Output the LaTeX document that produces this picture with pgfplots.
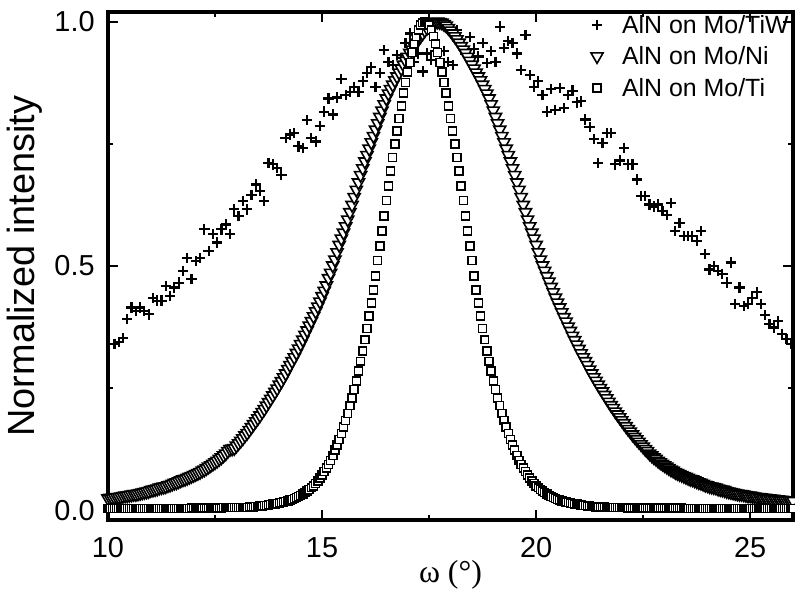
\documentclass[border=0pt]{standalone}
\usepackage{fontspec}
\setmainfont{Liberation Sans}
\newfontfamily\seriffont{Liberation Serif}
\usepackage{pgfplots}
\pgfplotsset{compat=1.18}
\usetikzlibrary{calc}
\begin{document}
\begin{tikzpicture}
\begin{axis}[
  scale only axis, width=342.5bp, height=254bp,
  xmin=10, xmax=26, ymin=-0.02, ymax=1.02,
  xtick={10,15,20,25}, xticklabels={10,15,20,25},
  minor xtick={12.5,17.5,22.5},
  ytick={0,0.5,1}, yticklabels={0.0,0.5,1.0},
  minor ytick={0.25,0.75},
  tick align=inside,
  major tick length=5bp, minor tick length=2.5bp,
  every tick/.style={black, line width=1bp},
  axis line style={line width=1.6bp},
  /pgf/number format/assume math mode=true,
  tick label style={font=\fontsize{14.5}{17}\selectfont},
  xticklabel style={inner sep=0pt, anchor=north, yshift=-8.5bp},
  yticklabel style={inner sep=0pt, anchor=east, xshift=-6.5bp},
  ylabel={Normalized intensity},
  ylabel style={font=\fontsize{19}{22}\selectfont, at={(axis description cs:-0.1212,0.5)}, anchor=center},
  xlabel={ω (°)},
  xlabel style={font=\seriffont\fontsize{16}{19}\selectfont, at={(axis description cs:0.5,-0.1083)}, anchor=center},
  legend style={at={(rel axis cs:1,1)}, anchor=north east, draw=none, fill=none,
    inner sep=0pt, xshift=-2bp, yshift=-1.5bp,
    font=\fontsize{12.5}{15}\selectfont, row sep=4.25bp,
    nodes={inner sep=0pt, text height=9bp, text depth=2.5bp},
    /tikz/every odd column/.append style={column sep=9.5bp}},
  legend image code/.code={\draw[mark repeat=2, mark phase=2, #1] plot coordinates {(0bp,1bp)(8bp,1bp)(16bp,1bp)};},
  legend cell align=left,
]
\coordinate (bl) at (rel axis cs:0,0);
\coordinate (tr) at (rel axis cs:1,1);

% AlN on Mo/TiW
\addplot[only marks, mark=+, mark size=2.6pt, mark options={line width=1.1bp, black}] coordinates {
(10.15,0.340)(10.25,0.345)(10.35,0.352)(10.45,0.391)(10.55,0.415)(10.65,0.408)(10.75,0.415)(10.85,0.408)
(10.95,0.401)(11.05,0.435)(11.15,0.429)(11.25,0.429)(11.35,0.459)(11.45,0.439)(11.55,0.456)(11.65,0.466)
(11.75,0.490)(11.85,0.517)(11.95,0.473)(12.05,0.510)(12.15,0.517)(12.25,0.575)(12.35,0.531)(12.45,0.565)
(12.55,0.548)(12.65,0.575)(12.75,0.585)(12.85,0.565)(12.95,0.616)(13.05,0.602)(13.15,0.633)(13.25,0.616)
(13.35,0.645)(13.45,0.667)(13.55,0.653)(13.65,0.633)(13.75,0.711)(13.85,0.708)(13.95,0.700)(14.05,0.687)
(14.15,0.762)(14.25,0.769)(14.35,0.772)(14.45,0.745)(14.55,0.741)(14.65,0.799)(14.75,0.762)(14.85,0.755)
(14.95,0.786)(15.05,0.816)(15.15,0.843)(15.25,0.810)(15.35,0.845)(15.45,0.883)(15.55,0.850)(15.65,0.857)
(15.75,0.867)(15.85,0.857)(15.95,0.878)(16.05,0.895)(16.15,0.908)(16.25,0.867)(16.35,0.895)(16.45,0.942)
(16.55,0.918)(16.65,0.911)(16.75,0.932)(16.85,0.925)(16.95,0.956)(17.05,0.976)(17.15,0.918)(17.25,0.935)
(17.35,0.898)(17.45,0.935)(17.55,0.922)(17.65,0.940)(17.75,0.918)(17.85,0.940)(17.95,0.918)(18.05,0.911)
(18.15,0.983)(18.25,0.950)(18.35,0.935)(18.45,0.969)(18.55,0.945)(18.65,0.929)(18.75,0.956)(18.85,0.915)
(18.95,0.940)(19.05,0.918)(19.15,0.990)(19.25,0.946)(19.35,0.960)(19.45,0.956)(19.55,0.935)(19.65,0.901)
(19.75,0.973)(19.85,0.891)(19.95,0.867)(20.05,0.878)(20.15,0.850)(20.25,0.816)(20.35,0.862)(20.45,0.820)
(20.55,0.865)(20.65,0.823)(20.75,0.850)(20.85,0.859)(20.95,0.835)(21.05,0.837)(21.15,0.800)(21.25,0.785)
(21.35,0.760)(21.45,0.711)(21.55,0.752)(21.65,0.772)(21.75,0.772)(21.85,0.708)(21.95,0.716)(22.05,0.742)
(22.15,0.708)(22.25,0.708)(22.35,0.677)(22.45,0.643)(22.55,0.643)(22.65,0.626)(22.75,0.622)(22.85,0.626)
(22.95,0.613)(23.05,0.605)(23.15,0.629)(23.25,0.571)(23.35,0.588)(23.45,0.561)(23.55,0.561)(23.65,0.561)
(23.75,0.551)(23.85,0.571)(23.95,0.524)(24.05,0.493)(24.15,0.500)(24.25,0.490)(24.35,0.483)(24.45,0.466)
(24.55,0.507)(24.65,0.422)(24.75,0.456)(24.85,0.418)(24.95,0.422)(25.05,0.435)(25.15,0.446)(25.25,0.422)
(25.35,0.400)(25.45,0.381)(25.55,0.374)(25.65,0.388)(25.75,0.361)(25.85,0.350)(25.95,0.341)
};
\addlegendentry{AlN on Mo/TiW}

% AlN on Mo/Ni
\addplot[only marks, mark=triangle*, mark size=3.5pt, mark options={fill=white, draw=black, line width=0.8bp, rotate=180}] coordinates {
(10.00,0.024)(10.05,0.025)(10.10,0.025)(10.15,0.026)(10.20,0.027)(10.25,0.027)(10.30,0.028)(10.35,0.029)
(10.40,0.030)(10.45,0.030)(10.50,0.031)(10.55,0.032)(10.60,0.033)(10.65,0.033)(10.70,0.034)(10.75,0.035)
(10.80,0.036)(10.85,0.037)(10.90,0.038)(10.95,0.039)(11.00,0.041)(11.05,0.042)(11.10,0.043)(11.15,0.044)
(11.20,0.046)(11.25,0.047)(11.30,0.048)(11.35,0.049)(11.40,0.051)(11.45,0.052)(11.50,0.054)(11.55,0.056)
(11.60,0.057)(11.65,0.059)(11.70,0.061)(11.75,0.063)(11.80,0.064)(11.85,0.066)(11.90,0.068)(11.95,0.070)
(12.00,0.072)(12.05,0.074)(12.10,0.076)(12.15,0.078)(12.20,0.081)(12.25,0.083)(12.30,0.086)(12.35,0.089)
(12.40,0.092)(12.45,0.095)(12.50,0.098)(12.55,0.101)(12.60,0.105)(12.65,0.108)(12.70,0.112)(12.75,0.116)
(12.80,0.121)(12.85,0.125)(12.90,0.126)(12.95,0.127)(13.00,0.132)(13.05,0.137)(13.10,0.142)(13.15,0.147)
(13.20,0.153)(13.25,0.158)(13.30,0.164)(13.35,0.170)(13.40,0.176)(13.45,0.182)(13.50,0.188)(13.55,0.194)
(13.60,0.201)(13.65,0.207)(13.70,0.214)(13.75,0.221)(13.80,0.228)(13.85,0.235)(13.90,0.242)(13.95,0.249)
(14.00,0.257)(14.05,0.264)(14.10,0.272)(14.15,0.280)(14.20,0.289)(14.25,0.297)(14.30,0.305)(14.35,0.313)
(14.40,0.322)(14.45,0.331)(14.50,0.340)(14.55,0.349)(14.60,0.359)(14.65,0.368)(14.70,0.378)(14.75,0.387)
(14.80,0.397)(14.85,0.407)(14.90,0.417)(14.95,0.427)(15.00,0.438)(15.05,0.449)(15.10,0.460)(15.15,0.475)
(15.20,0.486)(15.25,0.501)(15.30,0.513)(15.35,0.528)(15.40,0.543)(15.45,0.556)(15.50,0.568)(15.55,0.581)
(15.60,0.595)(15.65,0.610)(15.70,0.625)(15.75,0.641)(15.80,0.656)(15.85,0.671)(15.90,0.686)(15.95,0.700)
(16.00,0.714)(16.05,0.727)(16.10,0.740)(16.15,0.753)(16.20,0.766)(16.25,0.779)(16.30,0.792)(16.35,0.805)
(16.40,0.818)(16.45,0.831)(16.50,0.843)(16.55,0.853)(16.60,0.862)(16.65,0.871)(16.70,0.880)(16.75,0.888)
(16.80,0.896)(16.85,0.904)(16.90,0.912)(16.95,0.920)(17.00,0.928)(17.05,0.936)(17.10,0.943)(17.15,0.950)
(17.20,0.957)(17.25,0.964)(17.30,0.970)(17.35,0.976)(17.40,0.982)(17.45,0.987)(17.50,0.992)(17.55,0.995)
(17.60,0.998)(17.65,0.999)(17.70,1.000)(17.75,0.999)(17.80,0.998)(17.85,0.995)(17.90,0.992)(17.95,0.987)
(18.00,0.982)(18.05,0.976)(18.10,0.970)(18.15,0.964)(18.20,0.957)(18.25,0.950)(18.30,0.943)(18.35,0.936)
(18.40,0.928)(18.45,0.920)(18.50,0.912)(18.55,0.904)(18.60,0.896)(18.65,0.888)(18.70,0.880)(18.75,0.871)
(18.80,0.862)(18.85,0.853)(18.90,0.843)(18.95,0.831)(19.00,0.818)(19.05,0.805)(19.10,0.792)(19.15,0.779)
(19.20,0.766)(19.25,0.753)(19.30,0.740)(19.35,0.727)(19.40,0.714)(19.45,0.700)(19.50,0.686)(19.55,0.671)
(19.60,0.656)(19.65,0.641)(19.70,0.625)(19.75,0.610)(19.80,0.595)(19.85,0.581)(19.90,0.568)(19.95,0.556)
(20.00,0.543)(20.05,0.528)(20.10,0.513)(20.15,0.501)(20.20,0.490)(20.25,0.479)(20.30,0.468)(20.35,0.457)
(20.40,0.446)(20.45,0.435)(20.50,0.425)(20.55,0.415)(20.60,0.405)(20.65,0.395)(20.70,0.386)(20.75,0.376)
(20.80,0.367)(20.85,0.357)(20.90,0.348)(20.95,0.339)(21.00,0.330)(21.05,0.321)(21.10,0.313)(21.15,0.305)
(21.20,0.297)(21.25,0.288)(21.30,0.280)(21.35,0.272)(21.40,0.265)(21.45,0.257)(21.50,0.250)(21.55,0.243)
(21.60,0.236)(21.65,0.229)(21.70,0.222)(21.75,0.215)(21.80,0.209)(21.85,0.202)(21.90,0.196)(21.95,0.190)
(22.00,0.184)(22.05,0.178)(22.10,0.172)(22.15,0.166)(22.20,0.161)(22.25,0.155)(22.30,0.150)(22.35,0.145)
(22.40,0.140)(22.45,0.135)(22.50,0.130)(22.55,0.125)(22.60,0.121)(22.65,0.116)(22.70,0.112)(22.75,0.108)
(22.80,0.105)(22.85,0.101)(22.90,0.098)(22.95,0.095)(23.00,0.092)(23.05,0.089)(23.10,0.086)(23.15,0.083)
(23.20,0.081)(23.25,0.078)(23.30,0.076)(23.35,0.074)(23.40,0.072)(23.45,0.070)(23.50,0.068)(23.55,0.066)
(23.60,0.064)(23.65,0.063)(23.70,0.061)(23.75,0.059)(23.80,0.057)(23.85,0.056)(23.90,0.054)(23.95,0.052)
(24.00,0.051)(24.05,0.049)(24.10,0.048)(24.15,0.047)(24.20,0.046)(24.25,0.044)(24.30,0.043)(24.35,0.042)
(24.40,0.041)(24.45,0.039)(24.50,0.038)(24.55,0.037)(24.60,0.036)(24.65,0.035)(24.70,0.034)(24.75,0.033)
(24.80,0.033)(24.85,0.032)(24.90,0.031)(24.95,0.030)(25.00,0.030)(25.05,0.029)(25.10,0.028)(25.15,0.027)
(25.20,0.027)(25.25,0.026)(25.30,0.025)(25.35,0.025)(25.40,0.024)(25.45,0.024)(25.50,0.023)(25.55,0.023)
(25.60,0.022)(25.65,0.022)(25.70,0.021)(25.75,0.021)(25.80,0.020)(25.85,0.020)(25.90,0.020)(25.95,0.019)
(26.00,0.019)
};
\addlegendentry{AlN on Mo/Ni}

% AlN on Mo/Ti
\addplot[only marks, mark=square*, mark size=2pt, mark options={fill=white, draw=black, line width=0.75bp}] coordinates {
(10.00,0.004)(10.05,0.004)(10.10,0.004)(10.15,0.004)(10.20,0.004)(10.25,0.004)(10.30,0.004)(10.35,0.004)
(10.40,0.004)(10.45,0.004)(10.50,0.004)(10.55,0.004)(10.60,0.004)(10.65,0.004)(10.70,0.004)(10.75,0.004)
(10.80,0.004)(10.85,0.004)(10.90,0.004)(10.95,0.004)(11.00,0.004)(11.05,0.004)(11.10,0.004)(11.15,0.004)
(11.20,0.004)(11.25,0.004)(11.30,0.004)(11.35,0.004)(11.40,0.004)(11.45,0.004)(11.50,0.004)(11.55,0.004)
(11.60,0.004)(11.65,0.004)(11.70,0.004)(11.75,0.004)(11.80,0.004)(11.85,0.004)(11.90,0.004)(11.95,0.005)
(12.00,0.005)(12.05,0.005)(12.10,0.005)(12.15,0.005)(12.20,0.005)(12.25,0.005)(12.30,0.005)(12.35,0.005)
(12.40,0.005)(12.45,0.005)(12.50,0.005)(12.55,0.005)(12.60,0.005)(12.65,0.005)(12.70,0.006)(12.75,0.006)
(12.80,0.006)(12.85,0.006)(12.90,0.006)(12.95,0.006)(13.00,0.006)(13.05,0.006)(13.10,0.006)(13.15,0.006)
(13.20,0.006)(13.25,0.006)(13.30,0.007)(13.35,0.007)(13.40,0.007)(13.45,0.008)(13.50,0.008)(13.55,0.009)
(13.60,0.009)(13.65,0.010)(13.70,0.010)(13.75,0.011)(13.80,0.012)(13.85,0.013)(13.90,0.013)(13.95,0.014)
(14.00,0.015)(14.05,0.016)(14.10,0.017)(14.15,0.018)(14.20,0.019)(14.25,0.021)(14.30,0.022)(14.35,0.024)
(14.40,0.026)(14.45,0.028)(14.50,0.030)(14.55,0.033)(14.60,0.036)(14.65,0.039)(14.70,0.042)(14.75,0.046)
(14.80,0.050)(14.85,0.055)(14.90,0.060)(14.95,0.066)(15.00,0.072)(15.05,0.079)(15.10,0.086)(15.15,0.094)
(15.20,0.102)(15.25,0.112)(15.30,0.123)(15.35,0.134)(15.40,0.145)(15.45,0.157)(15.50,0.170)(15.55,0.184)
(15.60,0.198)(15.65,0.214)(15.70,0.230)(15.75,0.247)(15.80,0.265)(15.85,0.285)(15.90,0.305)(15.95,0.326)
(16.00,0.349)(16.05,0.372)(16.10,0.398)(16.15,0.424)(16.20,0.451)(16.25,0.480)(16.30,0.511)(16.35,0.541)
(16.40,0.572)(16.45,0.602)(16.50,0.634)(16.55,0.664)(16.60,0.694)(16.65,0.722)(16.70,0.750)(16.75,0.776)
(16.80,0.802)(16.85,0.828)(16.90,0.854)(16.95,0.876)(17.00,0.897)(17.05,0.917)(17.10,0.937)(17.15,0.955)
(17.20,0.970)(17.25,0.983)(17.30,0.993)(17.35,0.998)(17.40,1.000)(17.45,0.998)(17.50,0.993)(17.55,0.983)
(17.60,0.970)(17.65,0.955)(17.70,0.937)(17.75,0.917)(17.80,0.897)(17.85,0.876)(17.90,0.854)(17.95,0.828)
(18.00,0.802)(18.05,0.776)(18.10,0.750)(18.15,0.722)(18.20,0.694)(18.25,0.664)(18.30,0.634)(18.35,0.602)
(18.40,0.572)(18.45,0.541)(18.50,0.511)(18.55,0.480)(18.60,0.451)(18.65,0.424)(18.70,0.398)(18.75,0.372)
(18.80,0.349)(18.85,0.326)(18.90,0.305)(18.95,0.285)(19.00,0.265)(19.05,0.247)(19.10,0.230)(19.15,0.214)
(19.20,0.198)(19.25,0.184)(19.30,0.170)(19.35,0.157)(19.40,0.145)(19.45,0.134)(19.50,0.123)(19.55,0.112)
(19.60,0.102)(19.65,0.094)(19.70,0.086)(19.75,0.079)(19.80,0.072)(19.85,0.066)(19.90,0.060)(19.95,0.055)
(20.00,0.050)(20.05,0.046)(20.10,0.042)(20.15,0.039)(20.20,0.036)(20.25,0.033)(20.30,0.030)(20.35,0.028)
(20.40,0.026)(20.45,0.024)(20.50,0.022)(20.55,0.021)(20.60,0.019)(20.65,0.018)(20.70,0.017)(20.75,0.016)
(20.80,0.015)(20.85,0.014)(20.90,0.013)(20.95,0.013)(21.00,0.012)(21.05,0.011)(21.10,0.010)(21.15,0.010)
(21.20,0.009)(21.25,0.009)(21.30,0.008)(21.35,0.008)(21.40,0.007)(21.45,0.007)(21.50,0.007)(21.55,0.007)
(21.60,0.007)(21.65,0.006)(21.70,0.006)(21.75,0.006)(21.80,0.006)(21.85,0.006)(21.90,0.006)(21.95,0.006)
(22.00,0.006)(22.05,0.006)(22.10,0.006)(22.15,0.005)(22.20,0.005)(22.25,0.005)(22.30,0.005)(22.35,0.005)
(22.40,0.005)(22.45,0.005)(22.50,0.005)(22.55,0.005)(22.60,0.005)(22.65,0.005)(22.70,0.005)(22.75,0.005)
(22.80,0.005)(22.85,0.005)(22.90,0.005)(22.95,0.005)(23.00,0.005)(23.05,0.005)(23.10,0.005)(23.15,0.005)
(23.20,0.005)(23.25,0.005)(23.30,0.005)(23.35,0.005)(23.40,0.005)(23.45,0.004)(23.50,0.004)(23.55,0.004)
(23.60,0.004)(23.65,0.004)(23.70,0.004)(23.75,0.004)(23.80,0.004)(23.85,0.004)(23.90,0.004)(23.95,0.004)
(24.00,0.004)(24.05,0.004)(24.10,0.004)(24.15,0.004)(24.20,0.004)(24.25,0.004)(24.30,0.004)(24.35,0.004)
(24.40,0.004)(24.45,0.004)(24.50,0.004)(24.55,0.004)(24.60,0.004)(24.65,0.004)(24.70,0.004)(24.75,0.004)
(24.80,0.004)(24.85,0.004)(24.90,0.004)(24.95,0.004)(25.00,0.004)(25.05,0.004)(25.10,0.004)(25.15,0.004)
(25.20,0.004)(25.25,0.004)(25.30,0.004)(25.35,0.004)(25.40,0.004)(25.45,0.004)(25.50,0.004)(25.55,0.004)
(25.60,0.004)(25.65,0.004)(25.70,0.004)(25.75,0.004)(25.80,0.004)(25.85,0.004)(25.90,0.004)(25.95,0.004)
(26.00,0.004)
};
\addlegendentry{AlN on Mo/Ti}
\end{axis}
\pgfresetboundingbox
\path[use as bounding box] ($(bl)+(-54bp,-38bp)$) rectangle ($(tr)+(1bp,6bp)$);
\end{tikzpicture}
\end{document}
